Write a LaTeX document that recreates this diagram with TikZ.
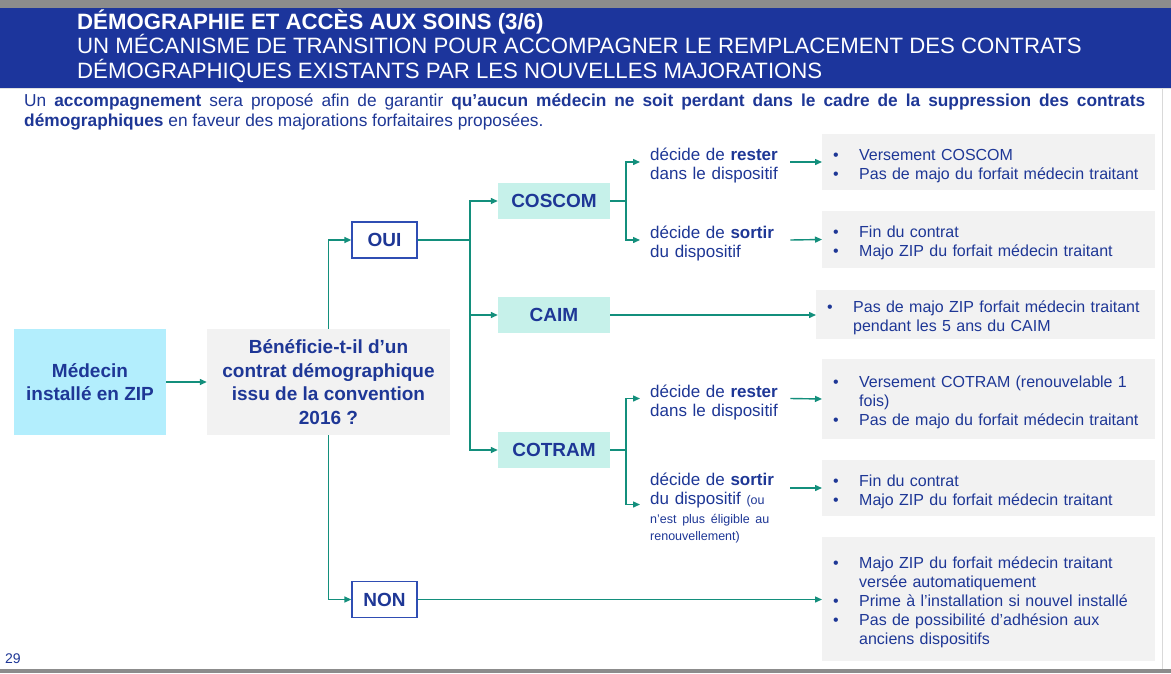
\documentclass[tikz,border=0pt]{standalone}
\usepackage{fontspec}
\setmainfont{Liberation Sans}
\usepackage{xcolor}
\usepackage{tikz}
\usetikzlibrary{calc,arrows.meta}
\definecolor{bandeau}{HTML}{1C359C}
\definecolor{encre}{HTML}{1E3796}
\definecolor{sarcelle}{HTML}{138F7C}
\definecolor{menthe}{HTML}{C6F1EA}
\definecolor{ciel}{HTML}{B3EEFD}
\definecolor{gris}{HTML}{F2F2F2}
\definecolor{cadre}{HTML}{2F4DB3}
\definecolor{filet}{HTML}{8C8C8C}
\hyphenpenalty=10000
\exhyphenpenalty=10000
\newcommand{\puce}[1]{\par\noindent\hangindent=26pt\hangafter=1\makebox[26pt][l]{\textbullet}#1\par}
\newcommand{\petit}{\fontsize{12.5}{15}\selectfont}
\tikzset{
  trait/.style={draw=sarcelle, line width=1.4pt},
  fleche/.style={trait, -{Triangle[length=7pt,width=6pt]}},
  titre/.style={anchor=base west, inner sep=0pt, text=white, font=\fontsize{22.2}{24}\selectfont},
  depart/.style={fill=ciel, minimum width=152pt, minimum height=106pt, inner sep=0pt, align=center, text=encre, font=\fontsize{19}{23.5}\selectfont\bfseries},
  question/.style={depart, fill=gris, minimum width=243pt},
  reponse/.style={draw=cadre, line width=1.3pt, fill=white, minimum width=65pt, minimum height=36pt, inner sep=0pt, text=encre, font=\fontsize{19}{23}\selectfont\bfseries},
  contrat/.style={fill=menthe, minimum width=112pt, minimum height=36pt, inner sep=0pt, text=encre, font=\fontsize{19}{23}\selectfont\bfseries},
  choix/.style={anchor=west, text width=130pt, inner xsep=10pt, inner ysep=0pt, align=left, text=encre, font=\fontsize{17}{19}\selectfont},
  issue/.style={anchor=west, fill=gris, text width=311pt, inner xsep=11pt, inner ysep=0pt, align=left, text=encre, font=\fontsize{16}{19}\selectfont}
}
\begin{document}
\begin{tikzpicture}[x=1pt, y=-1pt]
  \useasboundingbox (0,0) rectangle (1171,673);
  \fill[white] (0,0) rectangle (1171,673);
  \fill[filet] (0,0) rectangle (1171,7.5);
  \fill[bandeau] (0,7.5) rectangle (1171,87.5);
  \fill[black!12] (0,87.5) rectangle (1171,89);
  \fill[black!15] (1161.5,89) rectangle (1163,669);
  \fill[filet] (0,669) rectangle (1171,673);

  \node[titre, font=\fontsize{22.2}{24}\selectfont\bfseries] (titre1) at (77,29.5) {DÉMOGRAPHIE ET ACCÈS AUX SOINS (3/6)};
  \node[titre] (titre2) at (77,53.5) {UN MÉCANISME DE TRANSITION POUR ACCOMPAGNER LE REMPLACEMENT DES CONTRATS};
  \node[titre] (titre3) at (77,78) {DÉMOGRAPHIQUES EXISTANTS PAR LES NOUVELLES MAJORATIONS};

  \node[anchor=base west, inner sep=0pt, text width=1121pt, align=justify, text=encre, font=\fontsize{17.3}{20.5}\selectfont] (intro) at (24,106)
    {Un \textbf{accompagnement} sera proposé afin de garantir \textbf{qu’aucun médecin ne soit perdant dans le cadre de la suppression des contrats démographiques} en faveur des majorations forfaitaires proposées.};

  \node[depart] (medecin) at (90,382) {Médecin\\installé en ZIP};
  \node[question] (question) at (328.5,382) {Bénéficie-t-il d’un\\contrat démographique\\issu de la convention\\2016 ?};
  \node[reponse] (oui) at (384.5,240) {OUI};
  \node[reponse] (non) at (384.5,599.5) {NON};

  \node[contrat] (coscom) at (554,201) {COSCOM};
  \node[contrat] (caim) at (554,315) {CAIM};
  \node[contrat] (cotram) at (554,450) {COTRAM};

  \node[choix] (rester1) at (640,165.5) {décide de \textbf{rester}\\dans le dispositif};
  \node[choix] (sortir1) at (640,243.5) {décide de \textbf{sortir}\\du dispositif};
  \node[choix] (rester2) at (640,402) {décide de \textbf{rester}\\dans le dispositif};
  \node[choix] (sortir2) at (640,508) {décide de \textbf{sortir}\\du dispositif {\petit(ou}\\{\petit n'est plus éligible au}\\[-2pt]{\petit renouvellement)}};

  \node[issue, minimum height=56pt] (issue1) at (822,162)
    {\puce{Versement COSCOM}\puce{Pas de majo du forfait médecin traitant}};
  \node[issue, minimum height=57pt] (issue2) at (822,239.5)
    {\puce{Fin du contrat}\puce{Majo ZIP du forfait médecin traitant}};
  \node[issue, minimum height=49pt, text width=317pt] (issue3) at (816,314.5)
    {\puce{Pas de majo ZIP forfait médecin traitant\newline pendant les 5 ans du CAIM}};
  \node[issue, minimum height=80pt] (issue4) at (822,399)
    {\puce{Versement COTRAM (renouvelable 1\newline fois)}\puce{Pas de majo du forfait médecin traitant}};
  \node[issue, minimum height=56pt] (issue5) at (822,488)
    {\puce{Fin du contrat}\puce{Majo ZIP du forfait médecin traitant}};
  \node[issue, minimum height=124pt] (issue6) at (822,599)
    {\puce{Majo ZIP du forfait médecin traitant\newline versée automatiquement}\puce{Prime à l’installation si nouvel installé}\puce{Pas de possibilité d’adhésion aux\newline anciens dispositifs}};

  \node[anchor=base west, inner sep=0pt, text=encre, font=\fontsize{14}{16}\selectfont] (page) at (5,663) {29};

  \coordinate (fourche) at (470,240);
  \coordinate (fcoscom) at (626,201);
  \coordinate (fcotram) at (626,450);

  \draw[fleche] (medecin.east) -- (question.west);
  \draw[fleche] (question.north) |- (oui.west);
  \draw[fleche] (question.south) |- (non.west);
  \draw[trait] (oui.east) -- (fourche);
  \draw[fleche] (fourche) |- (coscom.west);
  \draw[fleche] (fourche) |- (caim.west);
  \draw[fleche] (fourche) |- (cotram.west);
  \draw[trait] (coscom.east) -- (fcoscom);
  \draw[fleche] (fcoscom) |- ([yshift=3.5pt]rester1.west);
  \draw[fleche] (fcoscom) |- ([yshift=3.5pt]sortir1.west);
  \draw[trait] (cotram.east) -- (fcotram);
  \draw[fleche] (fcotram) |- ([yshift=3.5pt]rester2.west);
  \draw[fleche] (fcotram) |- ([yshift=3.5pt]sortir2.west);
  \draw[fleche] ([yshift=3.5pt]rester1.east) -- (issue1.west);
  \draw[fleche] ([yshift=3.5pt]sortir1.east) -- (issue2.west);
  \draw[fleche] (caim.east) -- (caim.east -| issue3.west);
  \draw[fleche] ([yshift=3.5pt]rester2.east) -- (issue4.west);
  \draw[fleche] (sortir2.east |- issue5.west) -- (issue5.west);
  \draw[fleche] (non.east) -- (non.east -| issue6.west);
\end{tikzpicture}
\end{document}
